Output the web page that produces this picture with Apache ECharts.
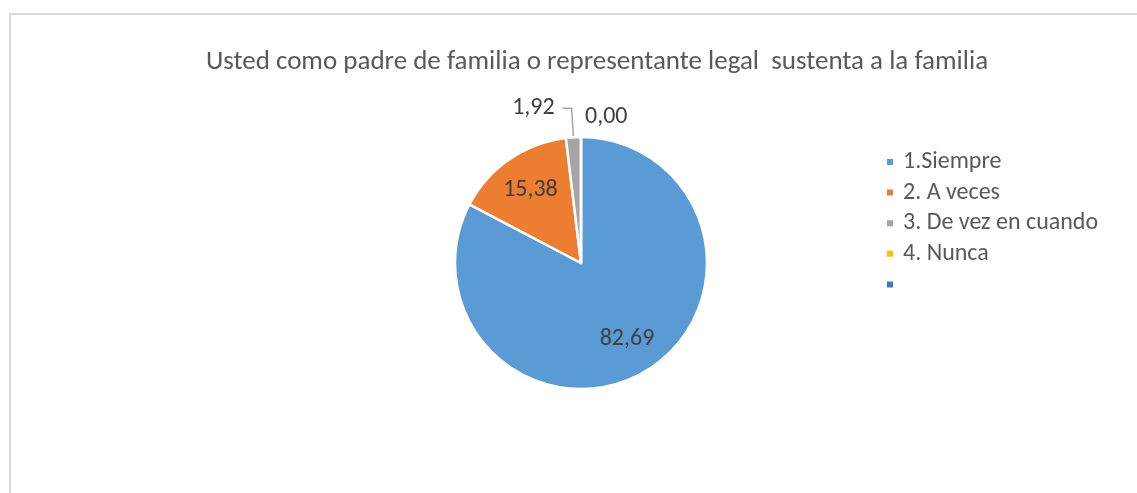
<!DOCTYPE html>
<html>
<head>
<meta charset="utf-8">
<script src="https://cdn.jsdelivr.net/npm/echarts@6/dist/echarts.min.js"></script>
<style>html,body{margin:0;padding:0;background:#fff;}#c{width:1137px;height:493px;}</style>
</head>
<body>
<div id="c"></div>
<script>
const titleText = 'Usted como padre de familia o representante legal  sustenta a la familia';
const categories = ['1.Siempre', '2. A veces', '3. De vez en cuando', '4. Nunca', ' '];
const values = [82.69, 15.38, 1.92, 0.00, null];
const colors = ['#5B9BD5', '#ED7D31', '#A5A5A5', '#FFC000', '#4472C4'];
const insideLabel = [true, true, false, false, false];

const fmt = v => v.toFixed(2).replace('.', ',');
const font = 'Calibri, Carlito, "Liberation Sans", "Open Sans", sans-serif';

const chart = echarts.init(document.getElementById('c'));
chart.setOption({
  animation: false,
  color: colors,
  title: {
    text: titleText, left: 592, top: 44, textAlign: 'center',
    textStyle: { color: '#595959', fontSize: 27, fontWeight: 'normal', fontFamily: font }
  },
  graphic: [{
    id: 'frame', type: 'rect', shape: { x: 10, y: 14, width: 1200, height: 600 },
    style: { fill: 'none', stroke: '#D9D9D9', lineWidth: 2 }, silent: true
  }],
  legend: {
    orient: 'vertical', left: 880, top: 145,
    itemWidth: 8, itemHeight: 8, itemGap: 6.6, icon: 'rect',
    data: categories,
    textStyle: { color: '#595959', fontSize: 24, lineHeight: 24, fontFamily: font, padding: [0, 0, 0, 4] }
  },
  series: [{
    type: 'pie', center: [581, 263], radius: [0, 126], startAngle: 90, clockwise: true,
    avoidLabelOverlap: false,
    itemStyle: { borderColor: '#fff', borderWidth: 2.5 },
    data: categories.map((n, i) => ({
      name: n, value: values[i],
      label: insideLabel[i] || values[i] == null ? { show: false } : {
        show: true, position: 'outside', color: '#404040', fontSize: 24, fontFamily: font,
        distanceToLabelLine: i === 2 ? 8 : 4,
        formatter: p => fmt(p.value)
      },
      labelLine: {
        show: i === 2, length: i === 2 ? 29 : 20, length2: i === 2 ? 9 : 0, smooth: false,
        lineStyle: { color: '#A6A6A6', width: 1.5 }
      }
    })),
    emphasis: { disabled: true }
  }, {
    type: 'pie', center: [581, 263], radius: [0, 172], startAngle: 90, clockwise: true,
    silent: true, legendHoverLink: false,
    itemStyle: { color: 'rgba(0,0,0,0)', borderWidth: 0 },
    labelLine: { show: false },
    data: categories.map((n, i) => ({
      name: n, value: values[i],
      label: insideLabel[i] ? {
        show: true, position: 'inside', color: '#404040', fontSize: 24, fontFamily: font,
        formatter: p => fmt(p.value)
      } : { show: false }
    })),
    emphasis: { disabled: true }
  }]
});

// ECharts skips labels of zero-value sectors; place those labels from the library's own layout.
const pieData = chart.getModel().getSeriesByIndex(0).getData();
const extra = [];
values.forEach((v, i) => {
  if (v !== 0) return;
  const lay = pieData.getItemLayout(i);
  if (!lay) return;
  const a = (lay.startAngle + lay.endAngle) / 2;
  const rr = lay.r + 20;
  extra.push({
    id: 'zero' + i, type: 'text', silent: true,
    x: lay.cx + rr * Math.cos(a) + 4, y: lay.cy + rr * Math.sin(a),
    style: { text: fmt(v), fill: '#404040', font: '24px ' + font, align: 'left', verticalAlign: 'middle' }
  });
});
if (extra.length) chart.setOption({ graphic: extra });
</script>
</body>
</html>
